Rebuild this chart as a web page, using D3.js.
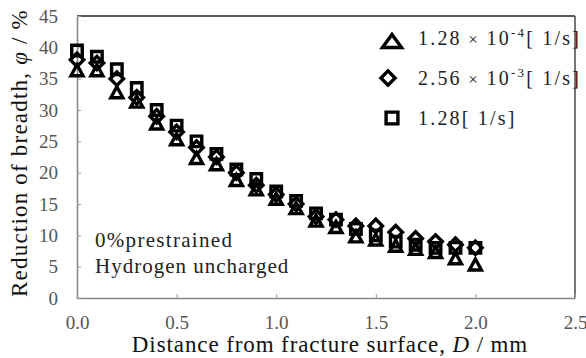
<!DOCTYPE html>
<html>
<head>
<meta charset="utf-8">
<script src="https://cdn.jsdelivr.net/npm/d3@7"></script>
<style>
  body { margin: 0; background: #fff; }
</style>
</head>
<body>
<div id="chart"></div>
<script>
// distance from fracture surface (mm)
const distance = [0, 0.1, 0.2, 0.3, 0.4, 0.5, 0.6, 0.7, 0.8, 0.9, 1.0, 1.1, 1.2, 1.3, 1.4, 1.5, 1.6, 1.7, 1.8, 1.9, 2.0]
// reduction of breadth (%) per strain rate
const rateSlow = [36.5, 36.5, 33, 31.5, 28, 25.5, 22.5, 21.5, 19, 17.5, 16, 14.5, 12.5, 11.5, 10, 9.5, 8.5, 8, 7.5, 6.5, 5.5]
const rateMid = [38, 37.5, 35, 32, 29, 26.5, 24, 22.5, 20, 18, 16.5, 15, 13, 12.5, 11.5, 11.5, 10.5, 9.5, 9, 8.5, 8]
const rateFast = [39.5, 38.5, 36.5, 33.5, 30, 27.5, 25, 23, 20.5, 19, 17, 15.5, 13.5, 12.5, 11, 10, 9, 8.5, 8, 8, 8]
const xTicks = [0, 0.5, 1.0, 1.5, 2.0, 2.5]
const yTicks = [0, 5, 10, 15, 20, 25, 30, 35, 40, 45]
const rateBase = ["1.28", "2.56", "1.28"]
const rateExp = ["-4", "-3", null]

const width = 586
const height = 358
const serif = "'Liberation Serif', 'Times New Roman', serif"

let svg = d3.select("#chart")
  .append("svg")
  .attr("width", width)
  .attr("height", height)
  .attr("font-family", serif)

let x = d3.scaleLinear().domain([0, 2.5]).range([77, 575])
let y = d3.scaleLinear().domain([0, 45]).range([298, 16])

// frame
svg.append("line").attr("x1", 77).attr("x2", 575).attr("y1", 16).attr("y2", 16)
  .attr("stroke", "#222").attr("stroke-width", 1.6)
svg.append("line").attr("x1", 575).attr("x2", 575).attr("y1", 16).attr("y2", 298)
  .attr("stroke", "#555").attr("stroke-width", 1.6)

let xAxis = svg.append("g")
  .attr("transform", "translate(0,298)")
  .call(d3.axisBottom(x).tickValues(xTicks).tickFormat(d3.format(".1f")).tickSizeInner(-4).tickSizeOuter(0).tickPadding(18))
let yAxis = svg.append("g")
  .attr("transform", "translate(77,0)")
  .call(d3.axisLeft(y).tickValues(yTicks).tickSizeInner(-4).tickSizeOuter(0).tickPadding(19))

;[xAxis, yAxis].forEach(ax => {
  ax.attr("font-family", serif)
  ax.select(".domain").attr("stroke", "#888").attr("stroke-width", 1.6)
  ax.selectAll(".tick line").attr("stroke", "#999")
  ax.selectAll(".tick text")
    .attr("fill", "#555")
    .style("font-size", "19px")
})

// axis titles
let xt = svg.append("text")
  .attr("x", 330).attr("y", 352)
  .attr("text-anchor", "middle")
  .attr("fill", "#111")
  .style("font-size", "23px")
  .style("letter-spacing", "0.9px")
xt.append("tspan").text("Distance from fracture surface,  ")
xt.append("tspan").style("font-style", "italic").text("D")
xt.append("tspan").text(" / mm")

let yt = svg.append("text")
  .attr("transform", "translate(27,153) rotate(-90)")
  .attr("text-anchor", "middle")
  .attr("fill", "#111")
  .style("font-size", "23px")
  .style("letter-spacing", "1.2px")
yt.append("tspan").text("Reduction of breadth,  ")
yt.append("tspan").style("font-style", "italic").text("φ")
yt.append("tspan").text(" / %")

// marker shapes
function triPath(w, h) {
  return "M0," + (-h / 2) + "L" + (w / 2) + "," + (h / 2) + "L" + (-w / 2) + "," + (h / 2) + "Z"
}
const tri = triPath(12, 11)
const dia = d3.symbol().type(d3.symbolSquare).size(90)()
const sq = d3.symbol().type(d3.symbolSquare).size(110)()

function drawSeries(vals, shape, rot, dy) {
  svg.append("g")
    .selectAll("path")
    .data(vals)
    .join("path")
    .attr("d", shape)
    .attr("transform", (d, i) => "translate(" + x(distance[i]) + "," + (y(d) + dy) + ") rotate(" + rot + ")")
    .attr("fill", "none")
    .attr("stroke", "#000")
    .attr("stroke-width", 3.4)
}
drawSeries(rateMid, dia, 45, 0)
drawSeries(rateSlow, tri, 0, 1)
drawSeries(rateFast, sq, 0, 0)

// legend
const legendShapes = [
  { d: triPath(19, 13), rot: 0, dx: 0, dy: 3 },
  { d: d3.symbol().type(d3.symbolSquare).size(100)(), rot: 45, dx: -4, dy: 0 },
  { d: d3.symbol().type(d3.symbolSquare).size(140)(), rot: 0, dx: 0, dy: 0 }
]
let legend = svg.append("g")
rateBase.forEach((base, i) => {
  let row = legend.append("g").attr("transform", "translate(392," + (38 + i * 40) + ")")
  let s = legendShapes[i]
  row.append("path")
    .attr("d", s.d)
    .attr("transform", "translate(" + s.dx + "," + s.dy + ") rotate(" + s.rot + ")")
    .attr("fill", "none")
    .attr("stroke", "#000")
    .attr("stroke-width", 3.4)
  let t = row.append("text").attr("x", 26).attr("y", 7)
    .style("font-size", "20px")
    .style("letter-spacing", "2.2px")
    .attr("fill", "#222")
  t.append("tspan").text(base)
  if (rateExp[i]) {
    t.append("tspan").text(" × ").style("font-size", "17px")
    t.append("tspan").text("10")
    t.append("tspan").attr("dy", -8).style("font-size", "13px").text(rateExp[i])
    t.append("tspan").attr("dy", 8).text("[ 1/s]")
  } else {
    t.append("tspan").text("[ 1/s]")
  }
})

// annotation
svg.append("text").attr("x", 95).attr("y", 247)
  .style("font-size", "21px").style("letter-spacing", "1.3px").attr("fill", "#222")
  .text("0%prestrained")
svg.append("text").attr("x", 95).attr("y", 273)
  .style("font-size", "21px").style("letter-spacing", "1px").attr("fill", "#222")
  .text("Hydrogen uncharged")
</script>
</body>
</html>
